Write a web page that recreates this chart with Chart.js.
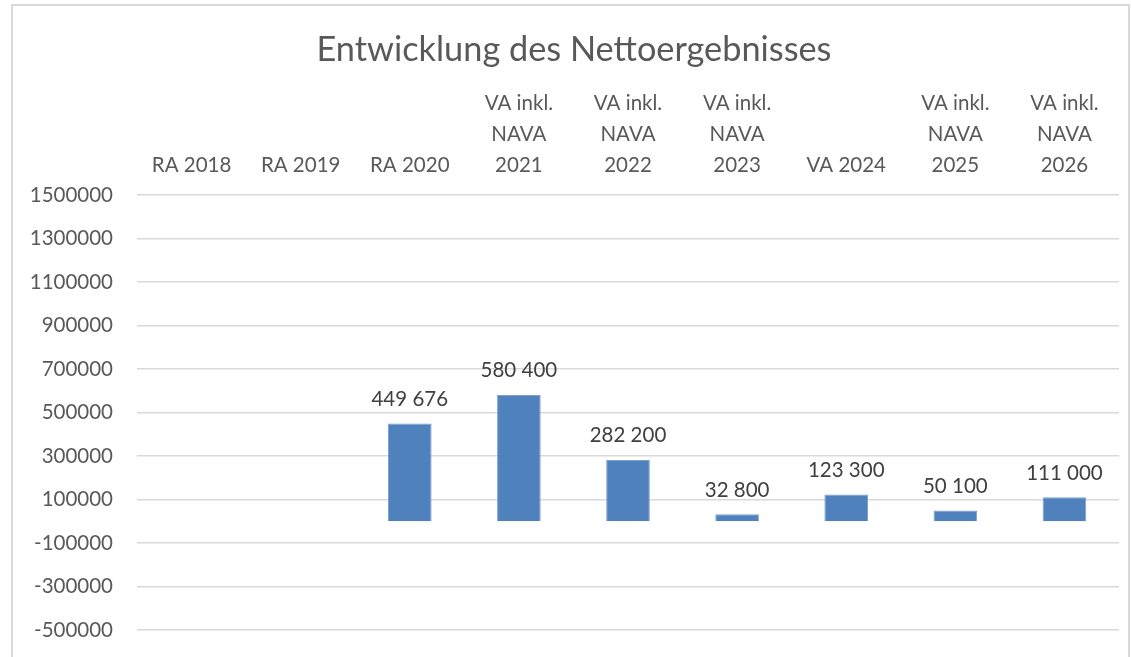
<!DOCTYPE html>
<html>
<head>
<meta charset="utf-8">
<script src="https://cdn.jsdelivr.net/npm/chart.js@4"></script>
<style>
  html, body { margin: 0; padding: 0; background: #fff; overflow: hidden; }
  #frame { position: absolute; left: 11px; top: 4px; width: 1115px; height: 720px; border: 2px solid #d9d9d9; }
  #myChart { position: absolute; left: 0; top: 0; }
</style>
</head>
<body>
<div id="frame"></div>
<canvas id="myChart" width="1160" height="710"></canvas>
<script>
const categories = [
  'RA 2018', 'RA 2019', 'RA 2020',
  ['VA inkl.', 'NAVA', '2021'],
  ['VA inkl.', 'NAVA', '2022'],
  ['VA inkl.', 'NAVA', '2023'],
  'VA 2024',
  ['VA inkl.', 'NAVA', '2025'],
  ['VA inkl.', 'NAVA', '2026']
];
const nettoergebnis = [null, null, 449676, 580400, 282200, 32800, 123300, 50100, 111000];
const yMin = -700000;
const yMax = 1500000;
const yStep = 200000;

const fontFamily = 'Lato, "Open Sans", sans-serif';

// 449676 -> "449 676"
const formatNumber = function (v) {
  return String(v).replace(/\B(?=(\d{3})+(?!\d))/g, ' ');
}

const barLabels = {
  id: 'barLabels',
  afterDatasetsDraw(chart) {
    const ctx = chart.ctx;
    const meta = chart.getDatasetMeta(0);
    ctx.save();
    ctx.font = '20.5px ' + fontFamily;
    ctx.fillStyle = '#404040';
    ctx.textAlign = 'center';
    ctx.textBaseline = 'bottom';
    meta.data.forEach(function (bar, i) {
      const v = nettoergebnis[i];
      if (v === null) return;
      ctx.fillText(formatNumber(v), bar.x, bar.y - 14);
    });
    ctx.restore();
  }
};

const ctx = document.getElementById('myChart').getContext('2d');
const myChart = new Chart(ctx, {
  type: 'bar',
  data: {
    labels: categories,
    datasets: [{
      label: 'Nettoergebnis',
      data: nettoergebnis,
      backgroundColor: '#4f81bd',
      borderColor: '#7a9fd0',
      borderWidth: 1,
      barPercentage: 0.4,
      categoryPercentage: 1.0
    }]
  },
  options: {
    responsive: false,
    animation: false,
    layout: { padding: { left: 29, right: 41, top: 0, bottom: 26.5 } },
    plugins: {
      legend: { display: false },
      tooltip: { enabled: false },
      title: {
        display: true,
        text: 'Entwicklung des Nettoergebnisses',
        color: '#595959',
        font: { family: fontFamily, size: 34.3, weight: 'normal', lineHeight: 1.2 },
        padding: { top: 29, bottom: 0 }
      }
    },
    scales: {
      x: {
        position: 'top',
        grid: { display: false, drawTicks: false },
        border: { display: false },
        ticks: {
          color: '#595959',
          font: { family: fontFamily, size: 20.5, lineHeight: 1.51 },
          padding: 14.5,
          maxRotation: 0,
          autoSkip: false
        },
        afterFit: function (scale) { scale.height = 195 - 70.2; }
      },
      y: {
        min: yMin,
        max: yMax,
        grid: { color: '#d9d9d9', lineWidth: 1.5, drawTicks: false },
        border: { display: false },
        ticks: {
          stepSize: yStep,
          color: '#595959',
          font: { family: fontFamily, size: 20.5 },
          padding: 24,
          callback: function (value) { return String(value); }
        },
        afterFit: function (scale) { scale.width = 137 - 29; }
      }
    }
  },
  plugins: [barLabels]
});
</script>
</body>
</html>
